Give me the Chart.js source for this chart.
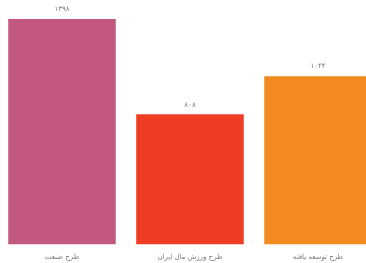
<!DOCTYPE html>
<html>
<head>
    <title>نمودار طرح‌ها</title>
    <script src="https://cdn.jsdelivr.net/npm/chart.js"></script>
    <style>
        body { margin: 0; background: #fff; overflow: hidden; width: 366px; height: 263px; }
        #wrap { position: absolute; left: -2px; top: 0; width: 384px; height: 267px; }
    </style>
</head>
<body>
    <div id="wrap"><canvas id="chart" width="384" height="267"></canvas></div>

    <script>
        // داده‌ها
        const labels = ['طرح صنعت', 'طرح ورزش مال ایران', 'طرح توسعه یافته'];
        const values = [1398, 808, 1044];
        const colors = ['#C2587F', '#EE3D22', '#F38A20'];
        const yMax = 1516;

        const faNum = v => v.toLocaleString('fa-IR', { useGrouping: false });

        // برچسب مقدار بالای هر ستون
        const valueLabels = {
            id: 'valueLabels',
            afterDatasetsDraw(chart) {
                const ctx = chart.ctx;
                const meta = chart.getDatasetMeta(0);
                ctx.save();
                ctx.font = '7px "DejaVu Sans"';
                ctx.fillStyle = '#777';
                ctx.textAlign = 'center';
                ctx.textBaseline = 'bottom';
                meta.data.forEach((bar, i) => {
                    ctx.fillText(faNum(values[i]), bar.x, bar.y - 6);
                });
                ctx.restore();
            }
        };

        new Chart(document.getElementById('chart'), {
            type: 'bar',
            data: {
                labels: labels,
                datasets: [{
                    data: values,
                    backgroundColor: colors,
                    borderWidth: 0,
                    barPercentage: 0.84,
                    categoryPercentage: 1
                }]
            },
            options: {
                responsive: false,
                animation: false,
                layout: { padding: { top: 0, bottom: -2 } },
                plugins: { legend: { display: false }, tooltip: { enabled: false } },
                scales: {
                    x: {
                        grid: { display: false, drawTicks: false },
                        border: { display: false },
                        ticks: { color: '#777', font: { family: 'DejaVu Sans', size: 7 }, padding: 8 }
                    },
                    y: { display: false, min: 0, max: yMax }
                }
            },
            plugins: [valueLabels]
        });
    </script>
</body>
</html>
